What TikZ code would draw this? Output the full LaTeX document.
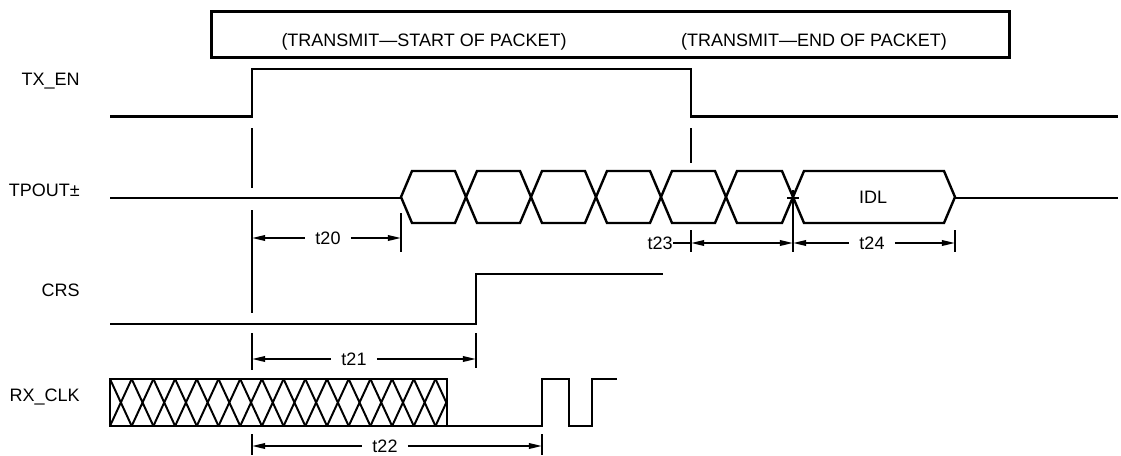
\documentclass[tikz,border=0pt]{standalone}
\usepackage{fontspec}
\setmainfont{Liberation Sans}
\usetikzlibrary{arrows.meta, positioning, calc}

\begin{document}
\begin{tikzpicture}[
    x=0.025cm, y=-0.025cm,
    >={Triangle[length=0.33cm, width=0.14cm]},
    sig/.style={line width=2.1pt, line join=miter},
    cell/.style={line width=1.7pt, line join=miter},
    hatch/.style={line width=1.4pt},
    refline/.style={line width=1.3pt},
    dim/.style={line width=1.3pt},
    txt/.style={font=\fontsize{12.8}{15}\selectfont, inner sep=0pt},
    signame/.style={txt, anchor=base east},
    tlbl/.style={txt, inner xsep=0.25cm}
]
    \useasboundingbox (0,0) rectangle (1121,455);

    % header box
    \node[draw, line width=2.1pt, minimum width=19.95cm, minimum height=1.15cm, inner sep=0pt] (hdr) at (610.5,34.5) {};
    \node[txt, anchor=base] (sop) at (424,46) {(TRANSMIT---START OF PACKET)};
    \node[txt, anchor=base] (eop) at (814,46) {(TRANSMIT---END OF PACKET)};

    % signal names
    \node[signame] (txen) at (80,85) {TX\_EN};
    \node[signame] (tpout) at (80,196) {TPOUT±};
    \node[signame] (crs) at (80,296) {CRS};
    \node[signame] (rxclk) at (80,401) {RX\_CLK};

    % TX_EN
    \draw[sig] (110,116.5) -- (252,116.5) -- (252,69) -- (691,69) -- (691,116.5) -- (1118,116.5);

    % TPOUT
    \draw[sig] (110,198) -- (401,198);
    \draw[sig] (955,198) -- (1118,198);
    \foreach \xa/\xb in {401/466, 466/531, 531/596, 596/661, 661/726, 726/793, 793/955}
        \draw[cell] (\xa,197) -- (\xa+11,171) -- (\xb-11,171) -- (\xb,197) -- (\xb-11,223) -- (\xa+11,223) -- cycle;
    \node[txt] (idl) at (873,197) {IDL};

    % CRS
    \draw[sig] (110,324) -- (476,324) -- (476,274) -- (663,274);

    % RX_CLK
    \begin{scope}
        \clip (110,379) rectangle (447,426);
        \foreach \k in {0,...,15}
            \draw[hatch] ({110+\k*21.7},379) -- ({110+(\k+1)*21.7},426)
                         ({110+\k*21.7},426) -- ({110+(\k+1)*21.7},379);
    \end{scope}
    \draw[sig] (110,379) rectangle (447,426);
    \draw[sig] (447,426) -- (542,426) -- (542,379) -- (569,379) -- (569,426) -- (592,426) -- (592,379) -- (617,379);

    % reference lines
    \draw[refline] (252,128) -- (252,188) (252,210) -- (252,313) (252,333) -- (252,370) (252,434) -- (252,455);
    \draw[refline] (401,213) -- (401,252);
    \draw[refline] (476,333) -- (476,368);
    \draw[refline] (542,434) -- (542,455);
    \draw[refline] (691,128) -- (691,163) (691,230) -- (691,252);
    \draw[refline] (793,190) -- (793,252) (787,198) -- (799,198);
    \draw[refline] (955,230) -- (955,252);

    % timing
    \coordinate (t20a) at (252,238);
    \coordinate (t20b) at (401,238);
    \node[tlbl] (t20) at (328,238) {t20};
    \draw[dim, <-] (t20a) -- (t20.west);
    \draw[dim, ->] (t20.east) -- (t20b);

    \coordinate (t21a) at (252,359);
    \coordinate (t21b) at (476,359);
    \node[tlbl] (t21) at (354,359) {t21};
    \draw[dim, <-] (t21a) -- (t21.west);
    \draw[dim, ->] (t21.east) -- (t21b);

    \coordinate (t22a) at (252,446);
    \coordinate (t22b) at (542,446);
    \node[tlbl] (t22) at (385,446) {t22};
    \draw[dim, <-] (t22a) -- (t22.west);
    \draw[dim, ->] (t22.east) -- (t22b);

    \coordinate (t23a) at (691,243);
    \coordinate (t23b) at (793,243);
    \node[txt, anchor=east] (t23) at (673,243) {t23};
    \draw[dim] (t23.east) -- (t23a);
    \draw[dim, <->] (t23a) -- (t23b);

    \coordinate (t24b) at (955,243);
    \node[tlbl] (t24) at (872,243) {t24};
    \draw[dim, <-] (t23b) -- (t24.west);
    \draw[dim, ->] (t24.east) -- (t24b);
\end{tikzpicture}
\end{document}
